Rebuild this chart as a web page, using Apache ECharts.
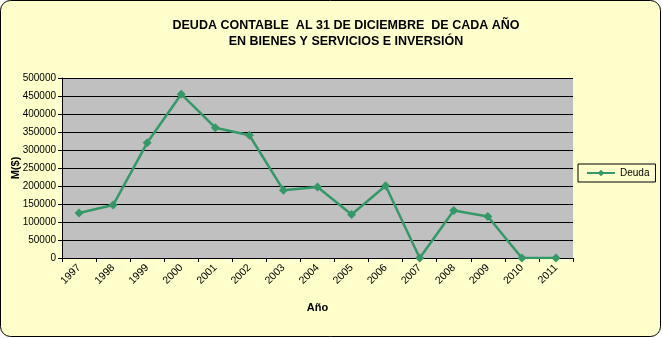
<!DOCTYPE html>
<html>
<head>
<meta charset="utf-8">
<script src="https://cdn.jsdelivr.net/npm/echarts@6/dist/echarts.min.js"></script>
<style>
  html, body { margin: 0; padding: 0; background: #ffffff; }
  #chart { width: 662px; height: 338px; }
</style>
</head>
<body>
<div id="chart"></div>
<script>
// Debt at December 31 of each year (thousands of pesos)
const years = ['1997','1998','1999','2000','2001','2002','2003','2004','2005','2006','2007','2008','2009','2010','2011'];
const deuda = [125000, 147000, 320000, 455000, 362000, 341000, 188500, 197000, 121000, 200500, 0, 132000, 115500, 0, 0];
const yTicks = { min: 0, max: 500000, step: 50000 };

const chart = echarts.init(document.getElementById('chart'));
const font = 'Arial, "Liberation Sans", sans-serif';

chart.setOption({
  animation: false,
  graphic: [{
    type: 'rect',
    z: -10,
    shape: { x: 0.5, y: 0.5, width: 660, height: 336, r: 10 },
    style: { fill: '#FFFFCC', stroke: '#000000', lineWidth: 1 }
  }],
  title: {
    text: 'DEUDA CONTABLE  AL 31 DE DICIEMBRE  DE CADA AÑO\nEN BIENES Y SERVICIOS E INVERSIÓN',
    left: 341,
    top: 13,
    textAlign: 'center',
    textStyle: { fontFamily: font, fontSize: 12.5, fontWeight: 'bold', color: '#000', lineHeight: 16 }
  },
  legend: {
    data: ['Deuda'],
    left: 578,
    top: 164,
    width: 79,
    height: 19,
    padding: [4, 6, 4, 8],
    itemWidth: 28,
    itemHeight: 8,
    itemGap: 4,
    borderColor: '#000',
    borderWidth: 1,
    textStyle: { fontFamily: font, fontSize: 10, color: '#000' }
  },
  grid: {
    left: 62, right: 89, top: 78, bottom: 80,
    containLabel: false,
    outerBoundsMode: 'none',
    show: true, backgroundColor: '#C0C0C0', borderWidth: 0
  },
  xAxis: {
    type: 'category',
    data: years,
    boundaryGap: true,
    name: 'Año',
    nameLocation: 'middle',
    nameGap: 44,
    nameMoveOverlap: false,
    nameTextStyle: { fontFamily: font, fontSize: 11, fontWeight: 'bold', color: '#000' },
    axisLine: { lineStyle: { color: '#000', width: 1 } },
    axisTick: { show: true, inside: false, length: 4, alignWithLabel: false, lineStyle: { color: '#000' } },
    axisLabel: { rotate: 45, fontFamily: font, fontSize: 10.5, color: '#000', margin: 8, interval: 0 },
    splitLine: { show: false }
  },
  yAxis: {
    type: 'value',
    min: yTicks.min,
    max: yTicks.max,
    interval: yTicks.step,
    name: 'M($)',
    nameLocation: 'middle',
    nameGap: 41,
    nameRotate: 90,
    nameMoveOverlap: false,
    nameTextStyle: { fontFamily: font, fontSize: 11, fontWeight: 'bold', color: '#000' },
    axisLine: { show: true, lineStyle: { color: '#000', width: 1 } },
    axisTick: { show: true, length: 4, lineStyle: { color: '#000' } },
    axisLabel: { fontFamily: font, fontSize: 10, color: '#000', margin: 6, formatter: v => String(v) },
    splitLine: { show: true, lineStyle: { color: '#000', width: 1 } }
  },
  series: [{
    name: 'Deuda',
    type: 'line',
    data: deuda,
    symbol: 'diamond',
    symbolSize: 9,
    lineStyle: { color: '#339966', width: 2.5 },
    itemStyle: { color: '#339966' }
  }]
});
</script>
</body>
</html>
